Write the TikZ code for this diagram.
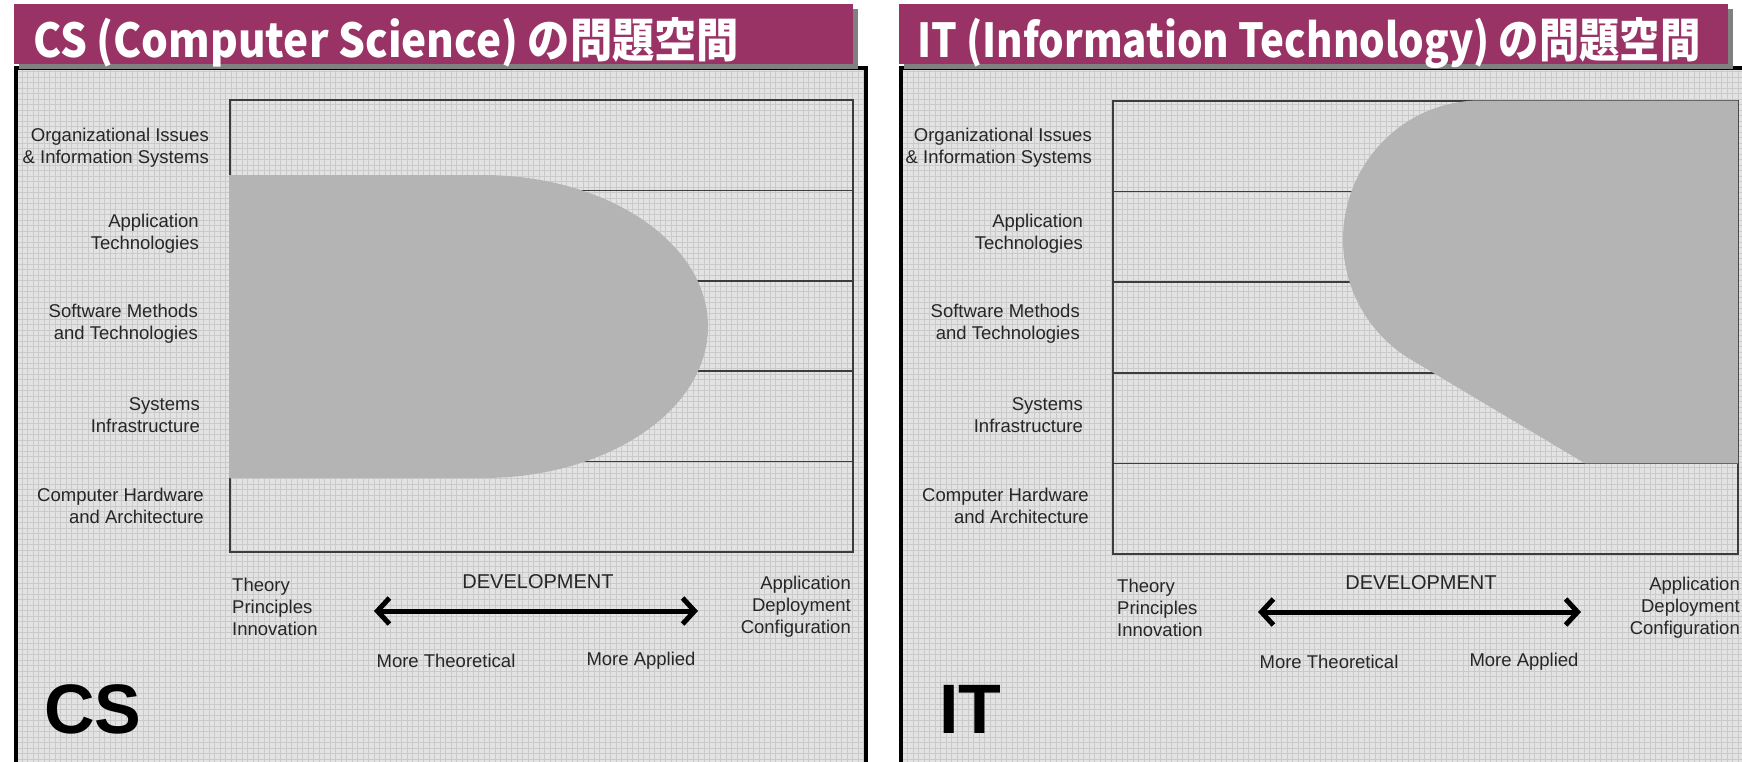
\documentclass[tikz,border=0pt]{standalone}
\usepackage{fontspec}
\usepackage{graphicx}
\setmainfont{Liberation Sans}
\newfontfamily\jpfont{Noto Sans CJK JP}
\usetikzlibrary{arrows.meta}
\definecolor{barpurple}{RGB}{153,51,102}
\definecolor{barshadow}{RGB}{128,128,128}
\definecolor{paper}{RGB}{227,227,227}
\definecolor{gridgray}{RGB}{202,202,202}
\definecolor{bandgray}{RGB}{180,180,180}
\definecolor{rule}{RGB}{60,60,60}

\begin{document}
\begin{tikzpicture}[x=1pt,y=-1pt,
    lbl/.style={font=\fontsize{18.5}{22}\selectfont, inner sep=0, text=black!85},
    rowlbl/.style={lbl, align=right, anchor=east},
    titletext/.style={anchor=base west, inner sep=0, text=white},
    tag/.style={font=\fontsize{70}{70}\selectfont\bfseries, anchor=base west, inner sep=0},
    devarrow/.style={line width=5pt, {Straight Barb[length=12pt,width=26pt]}-{Straight Barb[length=12pt,width=26pt]}}]
  \useasboundingbox (0,0) rectangle (1742,761);
  \fill[white] (0,0) rectangle (1742,761);

  % panels on squared paper
  \fill[paper] (14,66) rectangle (868,770);
  \draw[gridgray, line width=0.6pt, step=5.5pt] (14,66) grid (868,770);
  \draw[line width=4pt] (16,780) -- (16,67.5) -- (866,67.5) -- (866,780);
  \fill[paper] (899,66) rectangle (1750,770);
  \draw[gridgray, line width=0.6pt, step=5.5pt] (899,66) grid (1750,770);
  \draw[line width=4pt] (901,780) -- (901,67.5) -- (1750,67.5);

  % title bars with drop shadow
  \fill[barshadow] (19,9) rectangle (858,69);
  \fill[barpurple] (14,4) rectangle (853,64);
  \node[titletext] (cs-title) at (33,57)
    {\resizebox{706pt}{40pt}{\jpfont\bfseries CS (Computer Science) の問題空間}};
  \fill[barshadow] (904,9) rectangle (1733,69);
  \fill[barpurple] (899,4) rectangle (1728,64);
  \node[titletext] (it-title) at (917,57)
    {\resizebox{783pt}{40pt}{\jpfont\bfseries IT (Information Technology) の問題空間}};

  % CS chart
  \draw[rule, line width=1.5pt] (230,100) rectangle (853,552);
  \draw[rule, line width=1.5pt] (230,190.4) -- (853,190.4);
  \draw[rule, line width=1.5pt] (230,280.8) -- (853,280.8);
  \draw[rule, line width=1.5pt] (230,371.2) -- (853,371.2);
  \draw[rule, line width=1.5pt] (230,461.6) -- (853,461.6);
  \fill[bandgray] (229,175) -- (483,175)
    arc[start angle=-90, end angle=90, x radius=225, y radius=151.5] -- (229,478) -- cycle;
  \node[rowlbl] (cs-org) at (209,148) {Organizational Issues\\\& Information Systems};
  \node[rowlbl] (cs-app) at (199,234) {Application\\Technologies};
  \node[rowlbl] (cs-sw) at (198,324) {Software Methods\\and Technologies};
  \node[rowlbl] (cs-sys) at (200,415) {Systems\\Infrastructure};
  \node[rowlbl] (cs-hw) at (204,505.5) {Computer Hardware\\and Architecture};
  \node[lbl, anchor=west, align=left] (cs-theory) at (232,607) {Theory\\Principles\\Innovation};
  \node[lbl, anchor=east, align=right] (cs-deploy) at (851,607) {Application\\Deployment\\Configuration};
  \node[lbl, font=\fontsize{20}{22}\selectfont] (cs-dev) at (538,582) {DEVELOPMENT};
  \coordinate (cs-left) at (374,611);
  \coordinate (cs-right) at (698,611);
  \draw[devarrow] (cs-left) -- (cs-right);
  \node[lbl] (cs-moretheo) at (446,661) {More Theoretical};
  \node[lbl] (cs-moreappl) at (641,661) {More Applied};
  \node[tag] (cs-tag) at (44,733) {CS};

  % IT chart
  \begin{scope}[xshift=883]
    \draw[rule, line width=1.5pt] (230,101) rectangle (855,554);
    \draw[rule, line width=1.5pt] (230,191.6) -- (855,191.6);
    \draw[rule, line width=1.5pt] (230,282.2) -- (855,282.2);
    \draw[rule, line width=1.5pt] (230,372.8) -- (855,372.8);
    \draw[rule, line width=1.5pt] (230,463.4) -- (855,463.4);
    \fill[bandgray] (855,100.5) -- (597,100.5)
      arc[start angle=-90, end angle=-240, x radius=137, y radius=139] -- (702,463.4) -- (855,463.4) -- cycle;
    \node[rowlbl] (it-org) at (209,148) {Organizational Issues\\\& Information Systems};
    \node[rowlbl] (it-app) at (200,234) {Application\\Technologies};
    \node[rowlbl] (it-sw) at (197,324) {Software Methods\\and Technologies};
    \node[rowlbl] (it-sys) at (200,415) {Systems\\Infrastructure};
    \node[rowlbl] (it-hw) at (206,505.5) {Computer Hardware\\and Architecture};
    \node[lbl, anchor=west, align=left] (it-theory) at (234,608) {Theory\\Principles\\Innovation};
    \node[lbl, anchor=east, align=right] (it-deploy) at (857,608) {Application\\Deployment\\Configuration};
    \node[lbl, font=\fontsize{20}{22}\selectfont] (it-dev) at (538,583) {DEVELOPMENT};
    \coordinate (it-left) at (375,612);
    \coordinate (it-right) at (698,612);
    \draw[devarrow] (it-left) -- (it-right);
    \node[lbl] (it-moretheo) at (446,662) {More Theoretical};
    \node[lbl] (it-moreappl) at (641,662) {More Applied};
    \node[tag] (it-tag) at (56,733) {IT};
  \end{scope}
\end{tikzpicture}
\end{document}
